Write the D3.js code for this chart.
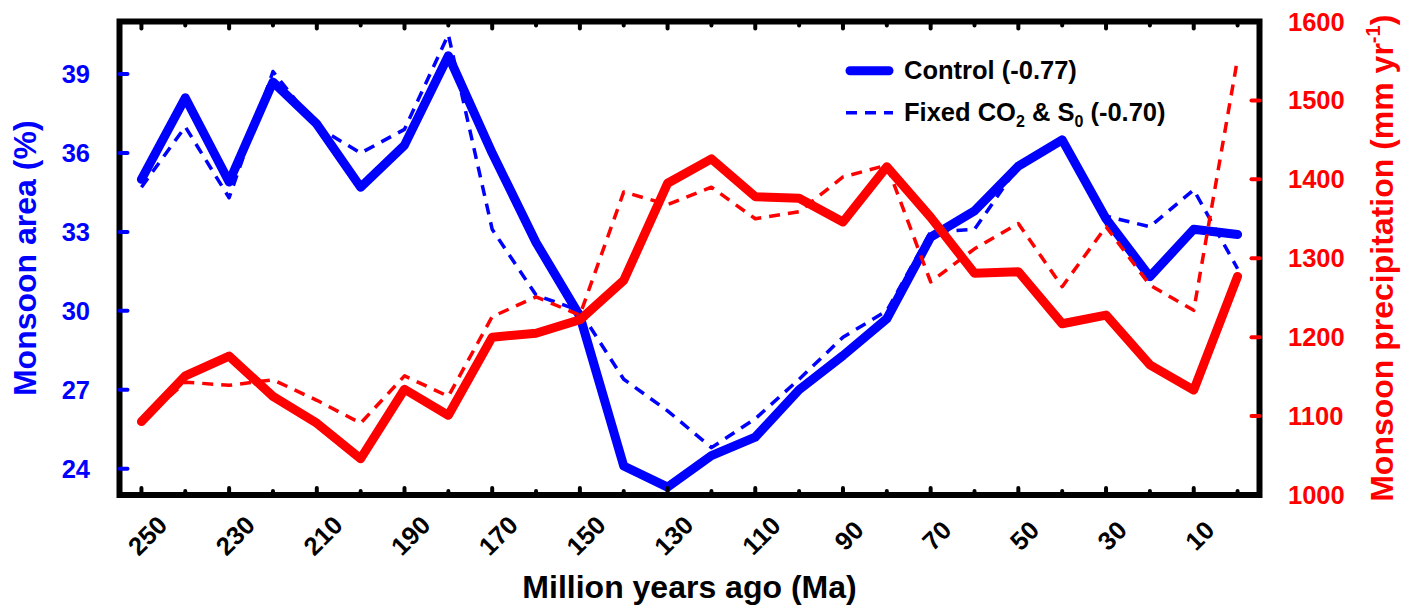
<!DOCTYPE html>
<html>
<head>
<meta charset="utf-8">
<script src="https://cdn.jsdelivr.net/npm/d3@7"></script>
<style>
  html, body { margin: 0; padding: 0; background: #fff; }
  svg { display: block; }
  text { font-family: "Liberation Sans", Arial, Helvetica, sans-serif; font-weight: bold; }
</style>
</head>
<body>
<svg id="chart" width="1403" height="609"></svg>
<script>
// Time slices (Ma) and monsoon diagnostics for each slice
const ages = [250, 240, 230, 220, 210, 200, 190, 180, 170, 160, 150, 140, 130,
              120, 110, 100, 90, 80, 70, 60, 50, 40, 30, 20, 10, 0];

// Monsoon area (%), left axis
const areaControl = [35.0, 38.1, 34.9, 38.7, 37.1, 34.7, 36.3, 39.7, 36.0, 32.6, 29.8, 24.1, 23.3,
                     24.5, 25.2, 27.0, 28.3, 29.7, 32.8, 33.8, 35.5, 36.5, 33.5, 31.3, 33.1, 32.9];
const areaFixed   = [34.7, 37.0, 34.3, 39.1, 37.0, 36.0, 36.9, 40.5, 33.1, 30.6, 30.0, 27.4, 26.2,
                     24.8, 25.9, 27.4, 29.0, 30.0, 33.0, 33.1, 35.5, 36.5, 33.6, 33.2, 34.6, 31.6];

// Monsoon precipitation (mm/yr), right axis
const precipControl = [1093, 1151, 1176, 1125, 1091, 1046, 1134, 1101, 1200, 1205, 1222, 1272, 1395,
                       1426, 1378, 1376, 1346, 1416, 1352, 1281, 1283, 1217, 1228, 1165, 1133, 1277];
const precipFixed   = [1093, 1143, 1139, 1146, 1120, 1091, 1151, 1125, 1226, 1251, 1228, 1384, 1368,
                       1390, 1350, 1359, 1403, 1418, 1270, 1312, 1344, 1264, 1340, 1266, 1234, 1553];

// Axis ticks
const xMajorTicks = [250, 230, 210, 190, 170, 150, 130, 110, 90, 70, 50, 30, 10];
const xMinorTicks = [240, 220, 200, 180, 160, 140, 120, 100, 80, 60, 40, 20, 0];
const areaTicks = [24, 27, 30, 33, 36, 39];
const precipTicks = [1000, 1100, 1200, 1300, 1400, 1500, 1600];

const BLUE = "#0000ff", RED = "#ff0000", BLACK = "#000";

const svg = d3.select("#chart");
const box = { left: 119.5, right: 1259.5, top: 21.5, bottom: 495 };

const x = d3.scaleLinear().domain([255, -5]).range([box.left, box.right]);
const yArea = d3.scaleLinear().domain([23, 41]).range([box.bottom, box.top]);
const yPrecip = d3.scaleLinear().domain([1000, 1600]).range([box.bottom, box.top]);

svg.append("clipPath").attr("id", "plotClip")
  .append("rect")
  .attr("x", box.left).attr("y", box.top)
  .attr("width", box.right - box.left).attr("height", box.bottom - box.top);

const plot = svg.append("g").attr("clip-path", "url(#plotClip)");

function drawSeries(values, yScale, color, width, dash) {
  const line = d3.line()
    .x((d, i) => x(ages[i]))
    .y(d => yScale(d));
  plot.append("path")
    .datum(values)
    .attr("d", line)
    .attr("fill", "none")
    .attr("stroke", color)
    .attr("stroke-width", width)
    .attr("stroke-linejoin", "round")
    .attr("stroke-linecap", dash ? "butt" : "round")
    .attr("stroke-dasharray", dash || null);
}

drawSeries(areaControl, yArea, BLUE, 9, null);
drawSeries(areaFixed, yArea, BLUE, 3.5, "11,8");
drawSeries(precipControl, yPrecip, RED, 9, null);
drawSeries(precipFixed, yPrecip, RED, 3.5, "11,8");

// Frame
svg.append("rect")
  .attr("x", box.left).attr("y", box.top)
  .attr("width", box.right - box.left).attr("height", box.bottom - box.top)
  .attr("fill", "none").attr("stroke", BLACK).attr("stroke-width", 6);

// X ticks (inward, top and bottom)
const tickG = svg.append("g")
  .attr("stroke-linecap", "round").attr("stroke-width", 4);

function xTicks(vals, len) {
  vals.forEach(v => {
    tickG.append("line").attr("stroke", BLACK)
      .attr("x1", x(v)).attr("x2", x(v))
      .attr("y1", box.bottom).attr("y2", box.bottom - len);
    tickG.append("line").attr("stroke", BLACK)
      .attr("x1", x(v)).attr("x2", x(v))
      .attr("y1", box.top).attr("y2", box.top + len);
  });
}
xTicks(xMajorTicks, 7);
xTicks(xMinorTicks, 4);

// Left ticks
areaTicks.forEach(v => {
  tickG.append("line").attr("stroke", BLUE)
    .attr("x1", box.left).attr("x2", box.left + 8)
    .attr("y1", yArea(v)).attr("y2", yArea(v));
});
// Right ticks
precipTicks.filter(v => v > 1000 && v < 1600).forEach(v => {
  tickG.append("line").attr("stroke", RED)
    .attr("x1", box.right).attr("x2", box.right - 8)
    .attr("y1", yPrecip(v)).attr("y2", yPrecip(v));
});

// Tick labels
svg.append("g").selectAll("text").data(xMajorTicks).join("text")
  .attr("transform", d => `translate(${x(d) + 6},535.5) rotate(-45)`)
  .attr("text-anchor", "middle")
  .attr("dominant-baseline", "central")
  .attr("font-size", 25.5)
  .attr("fill", BLACK)
  .text(d => d);

svg.append("g").selectAll("text").data(areaTicks).join("text")
  .attr("x", 90).attr("y", d => yArea(d))
  .attr("text-anchor", "end")
  .attr("dominant-baseline", "central")
  .attr("font-size", 25.5)
  .attr("fill", BLUE)
  .text(d => d);

svg.append("g").selectAll("text").data(precipTicks).join("text")
  .attr("x", 1288).attr("y", d => yPrecip(d))
  .attr("text-anchor", "start")
  .attr("dominant-baseline", "central")
  .attr("font-size", 25.5)
  .attr("fill", RED)
  .text(d => d);

// Axis titles
svg.append("text")
  .attr("x", (box.left + box.right) / 2).attr("y", 598)
  .attr("text-anchor", "middle")
  .attr("font-size", 32)
  .attr("fill", BLACK)
  .text("Million years ago (Ma)");

svg.append("text")
  .attr("transform", `translate(36,${(box.top + box.bottom) / 2}) rotate(-90)`)
  .attr("text-anchor", "middle")
  .attr("font-size", 32)
  .attr("fill", BLUE)
  .text("Monsoon area (%)");

const rTitle = svg.append("text")
  .attr("transform", `translate(1393,${(box.top + box.bottom) / 2}) rotate(-90)`)
  .attr("text-anchor", "middle")
  .attr("font-size", 32)
  .attr("fill", RED);
rTitle.append("tspan").text("Monsoon precipitation (mm yr");
rTitle.append("tspan").attr("font-size", 20).attr("dy", -13).text("-1");
rTitle.append("tspan").attr("dy", 13).text(")");

// Legend
const legend = svg.append("g");
legend.append("line")
  .attr("x1", 850).attr("x2", 889).attr("y1", 70.7).attr("y2", 70.7)
  .attr("stroke", BLUE).attr("stroke-width", 9).attr("stroke-linecap", "round");
legend.append("line")
  .attr("x1", 846).attr("x2", 893).attr("y1", 112.7).attr("y2", 112.7)
  .attr("stroke", BLUE).attr("stroke-width", 3.5).attr("stroke-dasharray", "11,8");

legend.append("text")
  .attr("x", 904).attr("y", 78.5)
  .attr("font-size", 25.5).attr("fill", BLACK)
  .text("Control (-0.77)");

const l2 = legend.append("text")
  .attr("x", 904).attr("y", 120.7)
  .attr("font-size", 25.5).attr("fill", BLACK);
l2.append("tspan").text("Fixed CO");
l2.append("tspan").attr("font-size", 16).attr("dy", 6.5).text("2");
l2.append("tspan").attr("dy", -6.5).text(" & S");
l2.append("tspan").attr("font-size", 16).attr("dy", 6.5).text("0");
l2.append("tspan").attr("dy", -6.5).text(" (-0.70)");
</script>
</body>
</html>
